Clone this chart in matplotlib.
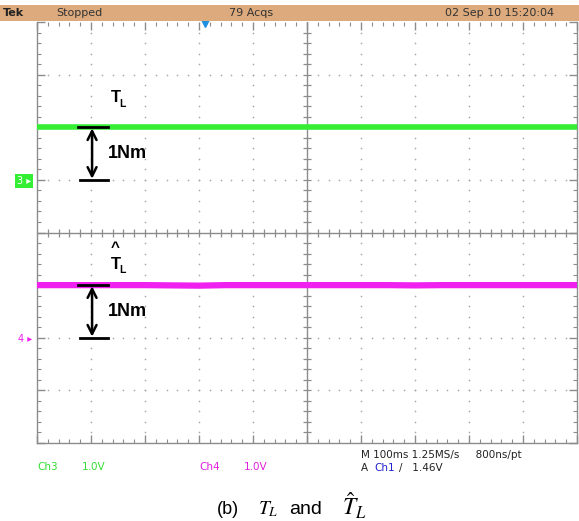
import matplotlib
matplotlib.use("Agg")
import matplotlib.pyplot as plt
from matplotlib.patches import Rectangle

# scope settings: 100 ms/div, 10 div wide, 8 div tall, 1.0 V/div on both channels
time_ms = [0, 50, 100, 150, 200, 250, 300, 350, 400, 450, 500,
           550, 600, 650, 700, 750, 800, 850, 900, 950, 1000]
# Ch3 (T_L, green) level above its ground marker, in volts
ch3_volts = [1.00, 1.00, 1.00, 1.00, 1.00, 1.00, 1.00, 1.00, 1.00, 1.00, 1.00,
             1.00, 1.00, 1.00, 1.00, 1.00, 1.00, 1.00, 1.00, 1.00, 1.00]
# Ch4 (T_L hat, magenta)
ch4_volts = [1.00, 1.00, 1.00, 1.00, 1.00, 0.995, 0.99, 1.00, 1.00, 1.00, 1.00,
             1.00, 1.00, 1.00, 0.995, 1.00, 1.00, 1.00, 1.00, 1.00, 1.00]
ch3_ground = 5.0   # divisions from bottom
ch4_ground = 2.0
volts_per_div = 1.0
trigger_ms = 311

W, H = 579, 521
fig = plt.figure(figsize=(W / 100, H / 100), dpi=100)
fig.patch.set_facecolor("white")
plt.rcParams["mathtext.fontset"] = "stix"


def fx(px):
    return px / W


def fy(py):
    return 1 - py / H


# scope screen
ax = fig.add_axes([fx(37), fy(443), fx(540), 421 / H])
ax.set_xlim(0, 1000)
ax.set_ylim(0, 8)
grid_col = "#8c8c8c"
for s in ax.spines.values():
    s.set_color(grid_col)
    s.set_linewidth(1.0)
ax.spines["top"].set_visible(False)

ax.set_xticks(range(0, 1001, 100))
ax.set_xticks(range(0, 1001, 20), minor=True)
ax.set_yticks(range(0, 9))
ax.set_yticks([k * 0.2 for k in range(41)], minor=True)
ax.tick_params(which="both", direction="in", top=True, right=True,
               labelbottom=False, labelleft=False, color=grid_col)
ax.tick_params(which="major", length=6, width=1)
ax.tick_params(which="minor", length=3, width=0.8)

# dotted graticule
for xm in range(100, 1000, 100):
    if xm == 500:
        continue
    ys = [k * 0.2 for k in range(1, 40)]
    ax.plot([xm] * len(ys), ys, ls="none", marker="o", ms=1.2, color="#a8a8a8", mec="none")
for ym in range(1, 8):
    if ym == 4:
        continue
    xs = list(range(20, 1000, 20))
    ax.plot(xs, [ym] * len(xs), ls="none", marker="o", ms=1.2, color="#a8a8a8", mec="none")

# center crosshair with ticks
ax.axhline(4, color=grid_col, lw=1.0)
ax.axvline(500, color=grid_col, lw=1.0)
xs = list(range(20, 1000, 20))
ax.plot(xs, [4] * len(xs), ls="none", marker="|", ms=6, color=grid_col, mew=0.9)
ys = [k * 0.2 for k in range(1, 40)]
ax.plot([500] * len(ys), ys, ls="none", marker="_", ms=6, color=grid_col, mew=0.9)

# traces
ch3_y = [ch3_ground + v / volts_per_div for v in ch3_volts]
ch4_y = [ch4_ground + v / volts_per_div for v in ch4_volts]
ax.plot(time_ms, ch3_y, color="#33ee33", lw=4, solid_capstyle="butt", zorder=5)
ax.plot(time_ms, ch4_y, color="#f020f0", lw=4.5, solid_capstyle="butt", zorder=5)

# trigger marker
ax.plot([trigger_ms], [8], marker="v", ms=7, color="#1e90e0", clip_on=False, zorder=6)

# 1Nm annotations
for gnd, lvl, ly, hat in [(ch3_ground, ch3_volts[2], 6.56, False),
                          (ch4_ground, ch4_volts[2], 3.40, True)]:
    top = gnd + lvl / volts_per_div
    ax.plot([75, 132], [top, top], color="black", lw=2, zorder=7)
    ax.plot([80, 132], [gnd, gnd], color="black", lw=2, zorder=7)
    ax.annotate("", xy=(102, top - 0.02), xytext=(102, gnd + 0.02),
                arrowprops=dict(arrowstyle="<->", color="black", lw=1.8,
                                mutation_scale=16, shrinkA=0, shrinkB=0), zorder=7)
    ax.text(132, gnd + 0.5 * lvl, "1Nm", fontsize=13, fontweight="bold",
            va="center", ha="left", family="Liberation Sans")
    ax.text(136, ly, "T", fontsize=12, fontweight="bold", va="center", ha="left",
            family="Liberation Sans")
    ax.text(152, ly - 0.12, "L", fontsize=7.5, fontweight="bold", va="center", ha="left",
            family="Liberation Sans")
    if hat:
        ax.text(144, ly + 0.3, "^", fontsize=11, fontweight="bold", va="center",
                ha="center", family="Liberation Sans")

# header bar
fig.patches.append(Rectangle((0, fy(21)), 1, 16 / H, transform=fig.transFigure,
                             facecolor="#dcaa7c", edgecolor="none"))
hy = fy(13)
fig.text(fx(3), hy, "Tek", fontsize=8, fontweight="bold", va="center", color="#222222")
fig.text(fx(56), hy, "Stopped", fontsize=8, va="center", color="#333333")
fig.text(fx(229), hy, "79 Acqs", fontsize=8, va="center", color="#333333")
fig.text(fx(445), hy, "02 Sep 10 15:20:04", fontsize=8, va="center", color="#333333")

# ground markers
fig.text(fx(24), fy(181), "3 \u25b8", fontsize=7, color="white", va="center", ha="center",
         bbox=dict(boxstyle="square,pad=0.25", facecolor="#33ee33", edgecolor="none"))
fig.text(fx(25), fy(339), "4 \u25b8", fontsize=7, color="#f020f0", va="center", ha="center")

# bottom readouts
by = fy(467)
fig.text(fx(37), by, "Ch3", fontsize=7.5, color="#33dd33", va="center")
fig.text(fx(82), by, "1.0V", fontsize=7.5, color="#33dd33", va="center")
fig.text(fx(199), by, "Ch4", fontsize=7.5, color="#e020e0", va="center")
fig.text(fx(244), by, "1.0V", fontsize=7.5, color="#e020e0", va="center")
fig.text(fx(361), fy(455), "M 100ms 1.25MS/s     800ns/pt", fontsize=7.5, color="#222222",
         va="center")
fig.text(fx(361), fy(468), "A", fontsize=7.5, color="#222222", va="center")
fig.text(fx(374), fy(468), "Ch1", fontsize=7.5, color="#2020d0", va="center")
fig.text(fx(399), fy(468), "/   1.46V", fontsize=7.5, color="#222222", va="center")

# caption
fig.text(fx(217), fy(509), "(b)", fontsize=13, va="center", ha="left",
         family="Liberation Sans")
fig.text(fx(258), fy(509), "$T_L$", fontsize=14, va="center", ha="left")
fig.text(fx(289), fy(509), "and", fontsize=14, va="center", ha="left",
         family="Liberation Sans")
fig.text(fx(342), fy(506), r"$\hat{T}_L$", fontsize=17, va="center", ha="left")

fig.savefig("out.png", dpi=100)
